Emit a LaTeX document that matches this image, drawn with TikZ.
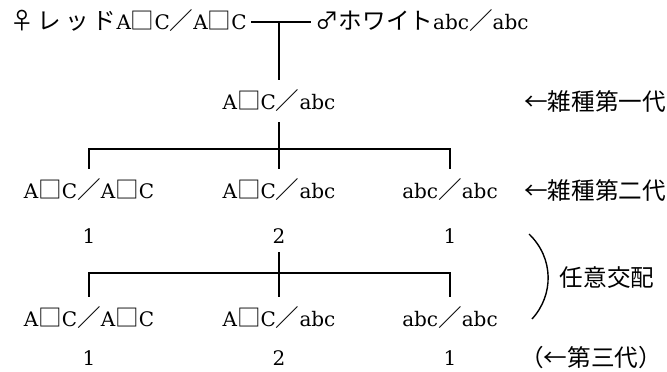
\documentclass[tikz,border=0pt]{standalone}
\usepackage{fontspec}
\setmainfont{DejaVu Serif}
\newfontfamily\jpfont[Scale=1.18]{Noto Sans CJK JP}
\newcommand{\ksq}{{\jpfont □}}
\newcommand{\ksl}{{\jpfont ／}}
\usetikzlibrary{positioning}

\begin{document}
\begin{tikzpicture}[
    x=1pt, y=-1pt,
    font=\fontsize{20}{24}\selectfont,
    gene/.style={inner sep=0pt, minimum height=42pt},
    ratio/.style={inner sep=0pt, minimum height=14pt},
    note/.style={inner sep=0pt, anchor=west, font=\fontsize{20}{24}\selectfont\jpfont},
    line/.style={line width=1.6pt}
]
\useasboundingbox (0,0) rectangle (667,372);

%% P
\node[gene, inner xsep=4pt, anchor=east] (mother) at (251,21) {{\jpfont ♀\,レ\,ッ\,ド}A\ksq C\ksl A\ksq C};
\node[gene, inner xsep=4pt, anchor=west] (father) at (311,21) {{\jpfont ♂ホワイト}abc\ksl abc};
\coordinate (cross) at (279,22);

%% F1
\node[gene] (f1_mid) at (279,101) {A\ksq C\ksl abc};
\node[note] (f1_note) at (524,101) {←雑種第一代};

\draw[line] (mother.east |- cross) -- (father.west |- cross);
\draw[line] (cross) -- (f1_mid.north);

%% F2
\node[gene] (f2_left) at (89,190) {A\ksq C\ksl A\ksq C};
\node[gene] (f2_mid) at (279,190) {A\ksq C\ksl abc};
\node[gene] (f2_right) at (450,190) {abc\ksl abc};
\node[note] (f2_note) at (524,190) {←雑種第二代};

\node[ratio, below=17pt of f2_left] (f2_left_n) {1};
\node[ratio, below=17pt of f2_mid] (f2_mid_n) {2};
\node[ratio, below=17pt of f2_right] (f2_right_n) {1};

\coordinate (split1) at (279,149);
\draw[line] (f1_mid.south) -- (f2_mid.north);
\draw[line] (f2_left.north) -- (f2_left.north |- split1)
    -- (f2_right.north |- split1) -- (f2_right.north);

%% random mating
\node[note, anchor=center] (mating) at (607,278) {任意交配};
\draw[line, line width=1.4pt] (529,234) .. controls (554,258) and (554,295) .. (532,319);

%% F3
\node[gene] (f3_left) at (89,318) {A\ksq C\ksl A\ksq C};
\node[gene] (f3_mid) at (279,318) {A\ksq C\ksl abc};
\node[gene] (f3_right) at (450,318) {abc\ksl abc};

\node[ratio, below=11pt of f3_left] (f3_left_n) {1};
\node[ratio, below=11pt of f3_mid] (f3_mid_n) {2};
\node[ratio, below=11pt of f3_right] (f3_right_n) {1};
\node[note] (f3_note) at (520,358) {（←第三代）};

\coordinate (split2) at (279,273);
\draw[line, shorten <=9pt] (f2_mid_n.south) -- (f3_mid.north);
\draw[line] (f3_left.north) -- (f3_left.north |- split2)
    -- (f3_right.north |- split2) -- (f3_right.north);

\end{tikzpicture}
\end{document}
